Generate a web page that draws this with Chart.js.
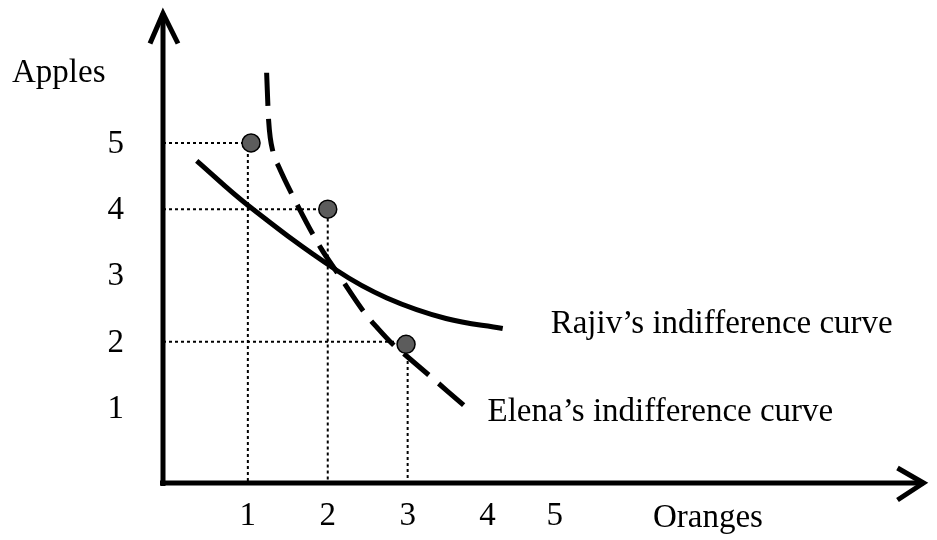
<!DOCTYPE html>
<html>
<head>
<meta charset="utf-8">
<script src="https://cdn.jsdelivr.net/npm/chart.js@4.4.1/dist/chart.umd.min.js"></script>
<style>
  html, body { margin: 0; padding: 0; background: #fff; }
</style>
</head>
<body>
<canvas id="chart" width="937" height="540"></canvas>
<script>
// tick labels (the "5" on the x axis sits a bit closer to "4" in the original)
const xTickValues = [1, 2, 3, 4, 4.84];
const xTickLabels = ['1', '2', '3', '4', '5'];
const yTickValues = [1, 2, 3, 4, 5];
const yTickLabels = ['1', '2', '3', '4', '5'];

// Rajiv's indifference curve (solid)
const rajivX = [0.36, 1.0, 2.12, 2.74, 3.48, 4.19];
const rajivY = [4.73, 4.06, 3.07, 2.66, 2.35, 2.20];

// Elena's indifference curve (dashed)
const elenaX = [1.235, 1.26, 1.32, 1.38, 1.63, 1.91, 2.12, 2.47, 2.62, 2.84, 2.99, 3.75];
const elenaY = [6.06, 5.34, 4.84, 4.66, 4.04, 3.42, 3.04, 2.42, 2.21, 1.93, 1.78, 0.99];

// bundles marked with dots and dotted guides
const bundleX = [1, 2, 3];
const bundleY = [5, 4, 2];
const markerX = [1.04, 2.0, 2.98];
const markerY = [5.0, 4.0, 1.96];

const xMin = -0.062, xMax = 9.494;
const yMin = -0.134, yMax = 7.0;

const serif = "'Liberation Serif', 'Times New Roman', serif";

function toPoints(xs, ys) {
    return xs.map((x, i) => ({ x: x, y: ys[i] }));
}

const guideSets = bundleX.map((bx, i) => ({
    data: [{ x: xMin, y: bundleY[i] }, { x: bx, y: bundleY[i] }, { x: bx, y: yMin }],
    borderColor: '#000',
    borderWidth: 2,
    borderDash: [3, 3],
    pointRadius: 0,
    tension: 0,
    order: 5
}));

// axes with arrow heads, tick labels and text labels
const decorations = {
    id: 'decorations',
    afterDraw(chart) {
        const ctx = chart.ctx;
        const a = chart.chartArea;
        const xs = chart.scales.x, ys = chart.scales.y;
        ctx.save();
        ctx.strokeStyle = '#000';
        ctx.lineWidth = 5;
        ctx.lineJoin = 'miter';
        ctx.beginPath();
        ctx.moveTo(a.left, a.top + 3);
        ctx.lineTo(a.left, a.bottom + 3);
        ctx.moveTo(a.left - 3, a.bottom);
        ctx.lineTo(a.right - 3, a.bottom);
        ctx.stroke();
        ctx.beginPath();
        ctx.moveTo(a.left - 13, a.top + 33);
        ctx.lineTo(a.left, a.top + 3);
        ctx.lineTo(a.left + 15, a.top + 33);
        ctx.moveTo(a.right - 29, a.bottom - 15);
        ctx.lineTo(a.right - 3, a.bottom);
        ctx.lineTo(a.right - 29, a.bottom + 17);
        ctx.stroke();

        ctx.fillStyle = '#000';
        ctx.font = '33px ' + serif;
        ctx.textBaseline = 'alphabetic';

        ctx.textAlign = 'center';
        xTickValues.forEach((v, i) => {
            ctx.fillText(xTickLabels[i], xs.getPixelForValue(v), a.bottom + 42);
        });
        ctx.textAlign = 'right';
        yTickValues.forEach((v, i) => {
            ctx.fillText(yTickLabels[i], a.left - 39, ys.getPixelForValue(v) + 10);
        });

        ctx.textAlign = 'left';
        ctx.fillText('Apples', 12, 82);
        ctx.fillText('Oranges', 653, 527);
        ctx.fillText('Rajiv\u2019s indifference curve', xs.getPixelForValue(4.79), ys.getPixelForValue(2.13));
        ctx.fillText('Elena\u2019s indifference curve', xs.getPixelForValue(4.0), ys.getPixelForValue(0.8));
        ctx.restore();
    }
};

new Chart(document.getElementById('chart'), {
    type: 'line',
    data: {
        datasets: [
            {
                data: toPoints(markerX, markerY),
                showLine: false,
                pointRadius: 9,
                pointBackgroundColor: '#5c5c5c',
                pointBorderColor: '#000',
                pointBorderWidth: 1.5,
                order: 1
            },
            {
                label: 'Rajiv',
                data: toPoints(rajivX, rajivY),
                borderColor: '#000',
                borderWidth: 5,
                pointRadius: 0,
                tension: 0.4,
                order: 3
            },
            {
                label: 'Elena',
                data: toPoints(elenaX, elenaY),
                borderColor: '#000',
                borderWidth: 5,
                borderDash: [33, 13],
                borderCapStyle: 'butt',
                pointRadius: 0,
                cubicInterpolationMode: 'monotone',
                order: 2
            },
            ...guideSets
        ]
    },
    options: {
        responsive: false,
        animation: false,
        devicePixelRatio: 1,
        layout: { padding: { top: 5, right: 0, left: 163, bottom: 57 } },
        plugins: { legend: { display: false }, tooltip: { enabled: false } },
        scales: {
            x: { type: 'linear', display: false, min: xMin, max: xMax },
            y: { type: 'linear', display: false, min: yMin, max: yMax }
        }
    },
    plugins: [decorations]
});
</script>
</body>
</html>
